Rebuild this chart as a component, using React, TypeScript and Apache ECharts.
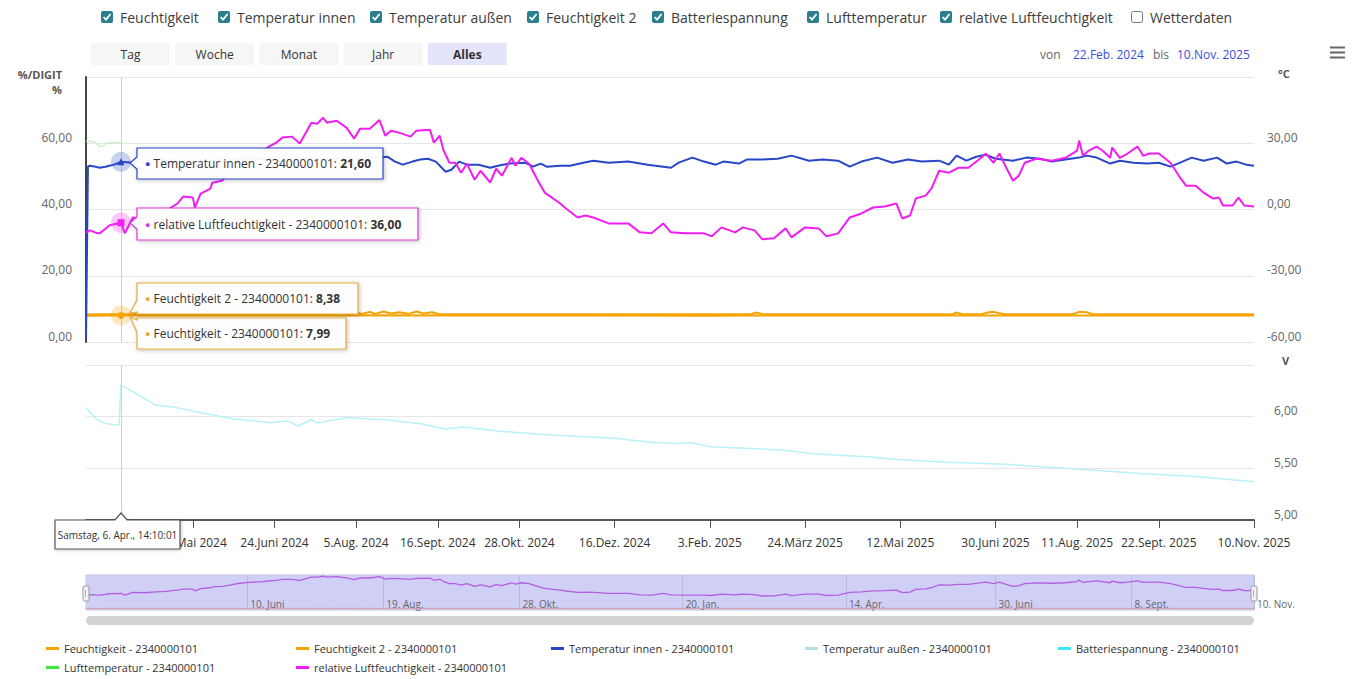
import React, { useEffect, useRef } from 'react';
import * as echarts from 'echarts';

// ---------- axis data ----------
const EARLY_DATES = [
  '2024-02-22', '2024-02-24', '2024-02-27', '2024-02-29', '2024-03-02', '2024-03-05',
  '2024-03-07', '2024-03-10', '2024-03-12', '2024-03-15', '2024-03-17', '2024-03-19',
  '2024-03-22', '2024-03-24', '2024-03-27', '2024-03-29', '2024-04-01', '2024-04-03',
];
const DAILY_START = [2024, 3, 6];
const DAILY_END = [2025, 10, 10];

const X_TICK_DATES = ['2024-05-13', '2024-06-24', '2024-08-05', '2024-09-16', '2024-10-28', '2024-12-16', '2025-02-03', '2025-03-24', '2025-05-12', '2025-06-30', '2025-08-11', '2025-09-22', '2025-11-10'];
const X_TICK_LABELS = ['13.Mai 2024', '24.Juni 2024', '5.Aug. 2024', '16.Sept. 2024', '28.Okt. 2024', '16.Dez. 2024', '3.Feb. 2025', '24.März 2025', '12.Mai 2025', '30.Juni 2025', '11.Aug. 2025', '22.Sept. 2025', '10.Nov. 2025'];
const NAV_TICK_DATES = ['2024-06-10', '2024-08-19', '2024-10-28', '2025-01-20', '2025-04-14', '2025-06-30', '2025-09-08', '2025-11-10'];
const NAV_TICK_LABELS = ['10. Juni', '19. Aug.', '28. Okt.', '20. Jan.', '14. Apr.', '30. Juni', '8. Sept.', '10. Nov.'];

const HOVER_DATE = '2024-04-06';
const HOVER_LABEL = 'Samstag, 6. Apr., 14:10:01';
const RANGE_FROM = '22.Feb. 2024';
const RANGE_TO = '10.Nov. 2025';
const RANGE_BUTTONS = ['Tag', 'Woche', 'Monat', 'Jahr', 'Alles'];
const CHECK_LABELS = ['Feuchtigkeit', 'Temperatur innen', 'Temperatur außen', 'Feuchtigkeit 2', 'Batteriespannung', 'Lufttemperatur', 'relative Luftfeuchtigkeit', 'Wetterdaten'];
const CHECK_STATES = [true, true, true, true, true, true, true, false];

const SUFFIX = ' - 2340000101';
const N_FEUCHT = 'Feuchtigkeit' + SUFFIX;
const N_FEUCHT2 = 'Feuchtigkeit 2' + SUFFIX;
const N_TINNEN = 'Temperatur innen' + SUFFIX;
const N_TAUSSEN = 'Temperatur außen' + SUFFIX;
const N_BATT = 'Batteriespannung' + SUFFIX;
const N_LUFT = 'Lufttemperatur' + SUFFIX;
const N_RH = 'relative Luftfeuchtigkeit' + SUFFIX;

// hovered values (tooltip)
const HOVER_TINNEN = 21.6;
const HOVER_RH = 36.0;
const HOVER_FEUCHT2 = 8.38;
const HOVER_FEUCHT = 7.99;

// ---------- series data ----------
const feuchtigkeit: [string, number][] = [
  ['2024-02-22', 7.9], ['2024-04-06', 7.99], ['2024-06-01', 8.0], ['2024-08-01', 8.05], ['2024-10-01', 7.98],
  ['2024-12-01', 7.99], ['2025-02-01', 7.95], ['2025-04-01', 7.99], ['2025-06-01', 8.0], ['2025-08-01', 8.02],
  ['2025-10-01', 7.99], ['2025-11-10', 7.99],
];

const feuchtigkeit2: [string, number][] = [
  ['2024-02-22', 8.3], ['2024-03-15', 8.4], ['2024-04-06', 8.38], ['2024-05-15', 8.4], ['2024-06-20', 8.35],
  ['2024-07-25', 8.4], ['2024-07-29', 8.9], ['2024-08-01', 8.45], ['2024-08-05', 9.0], ['2024-08-08', 8.45],
  ['2024-08-12', 9.1], ['2024-08-15', 8.5], ['2024-08-19', 9.2], ['2024-08-23', 8.6], ['2024-08-27', 9.0],
  ['2024-09-01', 8.5], ['2024-09-05', 9.2], ['2024-09-09', 8.6], ['2024-09-13', 9.0], ['2024-09-17', 8.4],
  ['2024-10-20', 8.38], ['2024-12-01', 8.4], ['2025-01-15', 8.38], ['2025-02-24', 8.4], ['2025-02-27', 8.9],
  ['2025-03-02', 8.4], ['2025-04-15', 8.38], ['2025-05-20', 8.4], ['2025-06-08', 8.4], ['2025-06-10', 8.9],
  ['2025-06-13', 8.4], ['2025-06-23', 8.4], ['2025-06-26', 8.9], ['2025-06-29', 9.1], ['2025-07-02', 8.7],
  ['2025-07-05', 8.4], ['2025-08-09', 8.4], ['2025-08-12', 9.1], ['2025-08-16', 9.0], ['2025-08-19', 8.4],
  ['2025-09-20', 8.38], ['2025-10-20', 8.4], ['2025-11-10', 8.38],
];

const temperaturInnen: [string, number][] = [
  ['2024-02-22', -59], ['2024-02-24', 19.5], ['2024-02-27', 19.8], ['2024-03-05', 19.4], ['2024-03-10', 18.9],
  ['2024-03-17', 19.4], ['2024-03-22', 19.8], ['2024-03-27', 20.2], ['2024-04-01', 20.8], ['2024-04-03', 21.2],
  ['2024-04-06', 21.6], ['2024-04-12', 21.2], ['2024-04-20', 21.8], ['2024-05-04', 22.3], ['2024-05-18', 21.9],
  ['2024-06-01', 22.6], ['2024-06-15', 23.0], ['2024-06-29', 22.4], ['2024-07-13', 23.2], ['2024-07-27', 22.8],
  ['2024-08-10', 23.4], ['2024-08-17', 23.5], ['2024-08-21', 23.9], ['2024-08-25', 21.7], ['2024-08-29', 20.3],
  ['2024-09-03', 21.7], ['2024-09-07', 22.6], ['2024-09-11', 23.0], ['2024-09-15', 21.7], ['2024-09-20', 17.1],
  ['2024-09-23', 18.0], ['2024-09-27', 21.7], ['2024-10-01', 20.3], ['2024-10-07', 20.3], ['2024-10-13', 18.9],
  ['2024-10-17', 19.8], ['2024-10-23', 20.8], ['2024-10-31', 21.2], ['2024-11-04', 19.4], ['2024-11-08', 20.8],
  ['2024-11-11', 19.4], ['2024-11-18', 19.8], ['2024-11-23', 19.8], ['2024-11-30', 21.2], ['2024-12-05', 22.1],
  ['2024-12-13', 21.2], ['2024-12-23', 21.7], ['2025-01-02', 20.3], ['2025-01-06', 19.8], ['2025-01-14', 18.9],
  ['2025-01-18', 21.2], ['2025-01-25', 23.5], ['2025-01-31', 21.7], ['2025-02-06', 20.3], ['2025-02-10', 21.7],
  ['2025-02-18', 20.8], ['2025-02-22', 22.6], ['2025-03-02', 22.6], ['2025-03-10', 23.0], ['2025-03-17', 24.4],
  ['2025-03-26', 22.1], ['2025-04-02', 22.6], ['2025-04-10', 22.1], ['2025-04-16', 19.4], ['2025-04-22', 21.7],
  ['2025-04-30', 23.5], ['2025-05-08', 21.2], ['2025-05-16', 22.6], ['2025-05-23', 21.7], ['2025-06-01', 22.1],
  ['2025-06-06', 20.3], ['2025-06-10', 24.4], ['2025-06-15', 22.1], ['2025-06-20', 23.9], ['2025-06-25', 24.8],
  ['2025-06-30', 23.0], ['2025-07-09', 22.1], ['2025-07-16', 23.5], ['2025-07-23', 23.0], ['2025-07-29', 21.7],
  ['2025-08-05', 22.6], ['2025-08-12', 23.5], ['2025-08-16', 24.4], ['2025-08-21', 23.5], ['2025-08-28', 20.8],
  ['2025-09-02', 22.1], ['2025-09-09', 21.2], ['2025-09-16', 20.8], ['2025-09-22', 21.2], ['2025-09-28', 19.4],
  ['2025-10-03', 21.2], ['2025-10-09', 23.5], ['2025-10-15', 22.1], ['2025-10-22', 23.5], ['2025-10-27', 20.8],
  ['2025-11-01', 21.7], ['2025-11-06', 20.3], ['2025-11-10', 19.8],
];

const temperaturAussen: [string, number][] = [];

const batteriespannung: [string, number][] = [
  ['2024-02-22', 6.09], ['2024-02-24', 6.065], ['2024-03-02', 6.0], ['2024-03-07', 5.97], ['2024-03-15', 5.94],
  ['2024-03-22', 5.93], ['2024-03-29', 5.92], ['2024-04-03', 5.92], ['2024-04-06', 6.31], ['2024-04-13', 6.23],
  ['2024-04-24', 6.11], ['2024-05-04', 6.09], ['2024-05-14', 6.05], ['2024-06-02', 5.98], ['2024-06-22', 5.94],
  ['2024-07-01', 5.96], ['2024-07-06', 5.91], ['2024-07-13', 5.97], ['2024-07-16', 5.94], ['2024-07-31', 5.99],
  ['2024-08-20', 5.97], ['2024-09-08', 5.93], ['2024-09-20', 5.88], ['2024-09-29', 5.9], ['2024-10-18', 5.86],
  ['2024-11-07', 5.83], ['2024-11-26', 5.81], ['2024-12-16', 5.79], ['2025-01-05', 5.75], ['2025-01-18', 5.74],
  ['2025-01-24', 5.75], ['2025-02-03', 5.71], ['2025-02-27', 5.69], ['2025-03-16', 5.67], ['2025-03-28', 5.64],
  ['2025-04-27', 5.61], ['2025-05-07', 5.59], ['2025-06-05', 5.56], ['2025-07-05', 5.54], ['2025-08-13', 5.49],
  ['2025-09-12', 5.45], ['2025-10-11', 5.42], ['2025-11-10', 5.37],
];

const lufttemperatur: [string, number][] = [
  ['2024-02-22', 31.0], ['2024-02-27', 31.0], ['2024-03-05', 30.4], ['2024-03-10', 28.4], ['2024-03-15', 28.8],
  ['2024-03-19', 30.2], ['2024-03-24', 30.2], ['2024-03-29', 30.4], ['2024-04-03', 30.2], ['2024-04-06', 30.0],
];

const relLuftfeuchte: [string, number][] = [
  ['2024-02-22', 33.0], ['2024-02-27', 33.7], ['2024-03-05', 33.0], ['2024-03-10', 32.8], ['2024-03-17', 34.2],
  ['2024-03-22', 35.2], ['2024-03-27', 35.5], ['2024-04-01', 35.8], ['2024-04-03', 35.2], ['2024-04-06', 36.0],
  ['2024-04-08', 32.8], ['2024-04-12', 37.6], ['2024-04-18', 37.0], ['2024-04-24', 38.6], ['2024-04-29', 39.5],
  ['2024-05-05', 41.8], ['2024-05-08', 43.9], ['2024-05-13', 43.6], ['2024-05-14', 40.6], ['2024-05-17', 44.8],
  ['2024-05-22', 46.3], ['2024-05-23', 48.1], ['2024-05-28', 48.7], ['2024-06-01', 51.1], ['2024-06-06', 54.7],
  ['2024-06-11', 56.2], ['2024-06-18', 57.8], ['2024-06-22', 59.3], ['2024-06-25', 60.2], ['2024-06-28', 61.7],
  ['2024-07-03', 62.0], ['2024-07-07', 59.9], ['2024-07-13', 66.2], ['2024-07-16', 65.9], ['2024-07-19', 67.7],
  ['2024-07-21', 66.2], ['2024-07-26', 66.8], ['2024-07-31', 64.7], ['2024-08-04', 61.4], ['2024-08-07', 64.4],
  ['2024-08-12', 64.4], ['2024-08-17', 67.0], ['2024-08-20', 62.3], ['2024-08-23', 63.8], ['2024-08-27', 63.2],
  ['2024-09-02', 62.0], ['2024-09-05', 63.8], ['2024-09-12', 64.1], ['2024-09-14', 60.2], ['2024-09-17', 62.3],
  ['2024-09-19', 57.8], ['2024-09-22', 54.1], ['2024-09-25', 54.1], ['2024-09-28', 51.1], ['2024-10-01', 53.8],
  ['2024-10-05', 49.0], ['2024-10-08', 51.7], ['2024-10-13', 48.1], ['2024-10-16', 52.3], ['2024-10-19', 50.2],
  ['2024-10-24', 55.6], ['2024-10-26', 53.2], ['2024-10-29', 55.6], ['2024-11-02', 53.8], ['2024-11-06', 49.3],
  ['2024-11-10', 45.1], ['2024-11-13', 43.9], ['2024-11-18', 41.8], ['2024-11-21', 40.3], ['2024-11-27', 37.6],
  ['2024-12-01', 38.2], ['2024-12-05', 37.6], ['2024-12-13', 35.8], ['2024-12-17', 35.8], ['2024-12-23', 35.8],
  ['2024-12-29', 33.1], ['2025-01-04', 32.8], ['2025-01-10', 35.8], ['2025-01-14', 33.1], ['2025-01-21', 32.8],
  ['2025-01-31', 32.8], ['2025-02-04', 31.9], ['2025-02-09', 34.6], ['2025-02-16', 33.1], ['2025-02-20', 34.6],
  ['2025-02-26', 33.7], ['2025-03-02', 31.0], ['2025-03-08', 31.3], ['2025-03-14', 34.3], ['2025-03-17', 31.6],
  ['2025-03-24', 34.6], ['2025-03-31', 34.3], ['2025-04-04', 31.9], ['2025-04-10', 32.8], ['2025-04-16', 37.6],
  ['2025-04-22', 38.8], ['2025-04-28', 40.6], ['2025-05-04', 40.9], ['2025-05-10', 41.8], ['2025-05-13', 37.3],
  ['2025-05-17', 38.2], ['2025-05-20', 43.3], ['2025-05-25', 44.2], ['2025-05-28', 46.3], ['2025-06-01', 51.7],
  ['2025-06-06', 51.1], ['2025-06-11', 52.6], ['2025-06-16', 52.6], ['2025-06-22', 55.3], ['2025-06-25', 56.9],
  ['2025-06-29', 54.1], ['2025-07-02', 56.9], ['2025-07-05', 53.2], ['2025-07-09', 48.7], ['2025-07-12', 50.2],
  ['2025-07-15', 54.1], ['2025-07-21', 55.3], ['2025-07-29', 54.7], ['2025-08-05', 55.6], ['2025-08-11', 57.8],
  ['2025-08-12', 60.8], ['2025-08-14', 56.2], ['2025-08-17', 57.8], ['2025-08-21', 59.0], ['2025-08-24', 57.8],
  ['2025-08-28', 55.6], ['2025-08-29', 58.7], ['2025-09-02', 55.6], ['2025-09-06', 56.9], ['2025-09-11', 59.0],
  ['2025-09-14', 56.2], ['2025-09-17', 56.9], ['2025-09-22', 56.9], ['2025-09-28', 54.1], ['2025-10-03', 49.6],
  ['2025-10-06', 47.2], ['2025-10-11', 47.2], ['2025-10-15', 45.1], ['2025-10-20', 43.3], ['2025-10-23', 43.6],
  ['2025-10-25', 41.2], ['2025-10-30', 41.2], ['2025-11-02', 43.6], ['2025-11-05', 41.2], ['2025-11-10', 40.9],
];

// ---------- helpers ----------
function buildCategories(): string[] {
  const out = [...EARLY_DATES];
  let t = Date.UTC(DAILY_START[0], DAILY_START[1], DAILY_START[2]);
  const end = Date.UTC(DAILY_END[0], DAILY_END[1], DAILY_END[2]);
  while (t <= end) {
    out.push(new Date(t).toISOString().slice(0, 10));
    t += 86400000;
  }
  return out;
}

const FONT = '"Open Sans", "Noto Sans", sans-serif';
const fmt = (v: number) => v.toFixed(2).replace('.', ',');

function buildOption() {
  const cats = buildCategories();
  const idx = new Map<string, number>(cats.map((c, i) => [c, i]));
  const toData = (arr: [string, number][]) =>
    arr.filter(([d]) => idx.has(d)).map(([d, v]) => [idx.get(d) as number, v]);
  const hoverIdx = idx.get(HOVER_DATE) as number;
  const xTickSet = new Set(X_TICK_DATES);
  const navTickSet = new Set(NAV_TICK_DATES);

  const C_ORANGE = '#f5a300';
  const C_BLUE = '#2846c8';
  const C_MAGENTA = '#f01ef0';

  const lineBase = { type: 'line', symbol: 'none', showSymbol: false, silent: true };

  const crossLine = {
    symbol: ['none', 'none'],
    silent: true,
    label: { show: false },
    lineStyle: { color: '#cfcfcf', width: 1, type: 'solid' },
    data: [{ xAxis: hoverIdx }],
  };

  const halo = (value: number, color: string, symbol: string, solid: string) => ({
    silent: true,
    label: { show: false },
    data: [
      { coord: [hoverIdx, value], symbol: 'circle', symbolSize: 20, itemStyle: { color } },
      { coord: [hoverIdx, value], symbol, symbolSize: 7, itemStyle: { color: solid } },
    ],
  });

  // ---------- graphic decorations ----------
  const g: any[] = [];
  const txt = (x: number, y: number, text: string, opts: any = {}) => ({
    type: 'text', x, y, z: 100, silent: true,
    style: {
      text, fill: opts.fill || '#333', fontSize: opts.fontSize || 12, fontFamily: FONT,
      fontWeight: opts.fontWeight || 'normal',
      align: opts.align || 'left', verticalAlign: 'middle',
      textAlign: opts.align || 'left', textVerticalAlign: 'middle',
    },
  });

  // checkboxes
  const cbX = [101, 218, 370, 527, 652, 807, 940, 1131];
  CHECK_LABELS.forEach((label, i) => {
    const x = cbX[i];
    if (CHECK_STATES[i]) {
      g.push({ type: 'rect', z: 100, silent: true, shape: { x, y: 11, width: 12, height: 12, r: 2 }, style: { fill: '#2b7e8e' } });
      g.push({ type: 'polyline', z: 101, silent: true, shape: { points: [[x + 2.6, 17], [x + 5, 19.6], [x + 9.6, 14]] }, style: { stroke: '#ffffff', lineWidth: 1.8, fill: 'none' } });
    } else {
      g.push({ type: 'rect', z: 100, silent: true, shape: { x: x + 0.5, y: 11.5, width: 11, height: 11, r: 2 }, style: { fill: '#ffffff', stroke: '#777', lineWidth: 1 } });
    }
    g.push(txt(x + 19, 17, label, { fontSize: 14, fill: '#3d3d3d' }));
  });

  // range buttons
  RANGE_BUTTONS.forEach((label, i) => {
    const x = 91 + i * 84.2;
    const sel = label === 'Alles';
    g.push({ type: 'rect', z: 100, silent: true, shape: { x, y: 43, width: 79, height: 22, r: 1 }, style: { fill: sel ? '#e4e4fb' : '#f6f6f6' } });
    g.push(txt(x + 39.5, 54.5, label, { align: 'center', fontWeight: sel ? 'bold' : 'normal', fill: '#333' }));
  });

  // range info
  g.push(txt(1040, 54, 'von', { fill: '#666' }));
  g.push(txt(1073, 54, RANGE_FROM, { fill: '#3a50d8' }));
  g.push(txt(1153, 54, 'bis', { fill: '#666' }));
  g.push(txt(1177, 54, RANGE_TO, { fill: '#3a50d8' }));

  // hamburger
  [47.5, 52.5, 57.5].forEach((y) => {
    g.push({ type: 'rect', z: 100, silent: true, shape: { x: 1330, y: y - 1, width: 15, height: 2 }, style: { fill: '#666' } });
  });

  // axis titles
  g.push(txt(62, 74, '%/DIGIT', { align: 'right', fontSize: 11, fontWeight: 'bold', fill: '#555' }));
  g.push(txt(62, 89, '%', { align: 'right', fontSize: 11, fontWeight: 'bold', fill: '#555' }));
  g.push(txt(1278, 73, '°C', { fontSize: 11, fontWeight: 'bold', fill: '#555' }));
  g.push(txt(1282, 360, 'V', { fontSize: 11, fontWeight: 'bold', fill: '#555' }));

  // tooltips
  const tip = (x0: number, y0: number, w: number, h: number, tx: number, ty: number, color: string, label: string, value: string) => {
    const x1 = x0 + w, y1 = y0 + h;
    const cy = Math.min(Math.max(ty, y0 + 8), y1 - 8);
    g.push({
      type: 'polygon', z: 90, silent: true,
      shape: { points: [[x0, y0], [x1, y0], [x1, y1], [x0, y1], [x0, cy + 6], [tx, ty], [x0, cy - 6]] },
      style: { fill: 'rgba(255,255,255,0.96)', stroke: color, lineWidth: 1.2, shadowBlur: 4, shadowColor: 'rgba(0,0,0,0.25)', shadowOffsetX: 1, shadowOffsetY: 1 },
    });
    g.push({
      type: 'text', z: 91, silent: true, x: x0 + 8, y: y0 + h / 2,
      style: {
        text: `{d|●} ${label}: {b|${value}}`,
        fill: '#333', fontSize: 12, fontFamily: FONT, verticalAlign: 'middle', textVerticalAlign: 'middle',
        rich: {
          d: { fill: color, fontSize: 9, fontFamily: FONT },
          b: { fontWeight: 'bold', fill: '#333', fontSize: 12, fontFamily: FONT },
        },
      },
    });
  };
  tip(137, 148, 246, 31, 130, 163, '#2846c8', N_TINNEN, fmt(HOVER_TINNEN));
  tip(137, 208, 281, 32, 130, 223, '#d63ad6', N_RH, fmt(HOVER_RH));
  tip(137, 283, 221, 31, 130, 313, '#e8a93a', N_FEUCHT2, fmt(HOVER_FEUCHT2));
  tip(137, 318, 209, 31, 130, 317, '#e8a93a', N_FEUCHT, fmt(HOVER_FEUCHT));

  // date label
  g.push({
    type: 'polygon', z: 90, silent: true,
    shape: { points: [[55, 520], [115, 520], [121, 513], [127, 520], [180, 520], [180, 549], [55, 549]] },
    style: { fill: '#ffffff', stroke: '#555', lineWidth: 1.2, shadowBlur: 3, shadowColor: 'rgba(0,0,0,0.2)', shadowOffsetX: 1, shadowOffsetY: 1 },
  });
  g.push(txt(117.5, 535, HOVER_LABEL, { align: 'center', fontSize: 10, fill: '#333' }));

  // navigator handles and scrollbar
  [83, 1251].forEach((x) => {
    g.push({ type: 'rect', z: 100, silent: true, shape: { x, y: 586, width: 6, height: 15, r: 1.5 }, style: { fill: '#f2f2f2', stroke: '#999', lineWidth: 1 } });
    g.push({ type: 'line', z: 101, silent: true, shape: { x1: x + 2.5, y1: 590, x2: x + 2.5, y2: 597 }, style: { stroke: '#999', lineWidth: 0.8 } });
  });
  g.push({ type: 'rect', z: 100, silent: true, shape: { x: 86, y: 616, width: 1168, height: 9, r: 4.5 }, style: { fill: '#d2d2d2' } });

  // legends
  const LEG: [string, number, number][] = [
    [N_FEUCHT, 46, 643], [N_FEUCHT2, 296, 643], [N_TINNEN, 551, 643], [N_TAUSSEN, 805, 643], [N_BATT, 1058, 643],
    [N_LUFT, 46, 662], [N_RH, 296, 662],
  ];
  const legends = LEG.map(([name, left, top]) => ({
    data: [name], left, top, padding: 0, itemWidth: 13, itemHeight: 3, icon: 'rect', itemGap: 5,
    selectedMode: false, textStyle: { fontSize: 11, color: '#333', fontFamily: FONT },
  }));

  const yLabel = (max: number, margin: number) => ({
    formatter: (v: number) => (v === max ? '' : fmt(v)),
    color: '#666', fontSize: 12, fontFamily: FONT, margin,
    verticalAlign: 'bottom', lineHeight: 12,
  });

  return {
    animation: false,
    textStyle: { fontFamily: FONT },
    grid: [
      { left: 86, width: 1168, top: 77, height: 265 },
      { left: 86, width: 1168, top: 365, height: 155 },
      { left: 86, width: 1168, top: 575, height: 35, show: true, backgroundColor: '#d0d0f6', borderColor: '#c4c4e4', borderWidth: 1 },
    ],
    xAxis: [
      { type: 'category', gridIndex: 0, data: cats, boundaryGap: false, axisLine: { show: false }, axisTick: { show: false }, axisLabel: { show: false }, splitLine: { show: false } },
      {
        type: 'category', gridIndex: 1, data: cats, boundaryGap: false,
        axisLine: { show: true, lineStyle: { color: '#555', width: 2 } },
        axisTick: { show: true, length: 8, interval: (i: number, v: string) => xTickSet.has(v), lineStyle: { color: '#555', width: 1 } },
        axisLabel: {
          interval: (i: number, v: string) => xTickSet.has(v),
          formatter: (v: string) => X_TICK_LABELS[X_TICK_DATES.indexOf(v)] || '',
          color: '#333', fontSize: 12, fontFamily: FONT, margin: 16, hideOverlap: false,
        },
        splitLine: { show: false },
      },
      {
        type: 'category', gridIndex: 2, data: cats, boundaryGap: false,
        axisLine: { show: false }, axisTick: { show: false },
        axisLabel: {
          inside: true, interval: (i: number, v: string) => navTickSet.has(v),
          formatter: (v: string) => NAV_TICK_LABELS[NAV_TICK_DATES.indexOf(v)] || '',
          align: 'left', padding: [0, 0, 0, 3], margin: 1, color: '#666', fontSize: 10, fontFamily: FONT, hideOverlap: false,
        },
        splitLine: { show: true, interval: (i: number, v: string) => navTickSet.has(v), lineStyle: { color: '#b9b9e2', width: 1 } },
      },
    ],
    yAxis: [
      {
        type: 'value', gridIndex: 0, position: 'left', min: 0, max: 80, interval: 20,
        axisLine: { show: true, lineStyle: { color: '#444', width: 2 } }, axisTick: { show: false },
        axisLabel: yLabel(80, 14), splitLine: { lineStyle: { color: '#e6e6e6' } },
      },
      {
        type: 'value', gridIndex: 0, position: 'right', min: -60, max: 60, interval: 30,
        axisLine: { show: false }, axisTick: { show: false },
        axisLabel: yLabel(60, 13), splitLine: { show: false },
      },
      {
        type: 'value', gridIndex: 1, position: 'right', min: 5, max: 6.5, interval: 0.5,
        axisLine: { show: false }, axisTick: { show: false },
        axisLabel: yLabel(6.5, 20), splitLine: { lineStyle: { color: '#e6e6e6' } },
      },
      { type: 'value', gridIndex: 2, min: 5, max: 70, show: false, splitLine: { show: false } },
    ],
    legend: legends,
    series: [
      { ...lineBase, name: N_FEUCHT, xAxisIndex: 0, yAxisIndex: 0, color: C_ORANGE, lineStyle: { color: C_ORANGE, width: 2 }, data: toData(feuchtigkeit), z: 3,
        markPoint: halo(HOVER_FEUCHT, 'rgba(245,163,0,0.25)', 'circle', C_ORANGE) },
      { ...lineBase, name: N_FEUCHT2, xAxisIndex: 0, yAxisIndex: 0, color: C_ORANGE, lineStyle: { color: C_ORANGE, width: 2 }, data: toData(feuchtigkeit2), z: 3 },
      { ...lineBase, name: N_TINNEN, xAxisIndex: 0, yAxisIndex: 1, color: C_BLUE, lineStyle: { color: C_BLUE, width: 2 }, data: toData(temperaturInnen), z: 4,
        markPoint: halo(HOVER_TINNEN, 'rgba(40,70,200,0.25)', 'triangle', C_BLUE) },
      { ...lineBase, name: N_TAUSSEN, xAxisIndex: 0, yAxisIndex: 1, color: '#b6dde2', lineStyle: { color: '#b6dde2', width: 1.5 }, data: toData(temperaturAussen) },
      { ...lineBase, name: N_BATT, xAxisIndex: 1, yAxisIndex: 2, color: '#3ee6f2', lineStyle: { color: '#b9f2f6', width: 1.5 }, data: toData(batteriespannung),
        markLine: crossLine },
      { ...lineBase, name: N_LUFT, xAxisIndex: 0, yAxisIndex: 1, color: '#3ee63e', lineStyle: { color: '#c2efc2', width: 1.2 }, data: toData(lufttemperatur) },
      { ...lineBase, name: N_RH, xAxisIndex: 0, yAxisIndex: 0, color: C_MAGENTA, lineStyle: { color: C_MAGENTA, width: 2 }, data: toData(relLuftfeuchte), z: 5,
        markLine: crossLine,
        markPoint: halo(HOVER_RH, 'rgba(240,30,240,0.25)', 'rect', C_MAGENTA) },
      { ...lineBase, name: 'nav-feuchtigkeit', xAxisIndex: 2, yAxisIndex: 3, color: '#d99aa6', lineStyle: { color: '#d99aa6', width: 1 }, data: toData(feuchtigkeit) },
      { ...lineBase, name: 'nav-rh', xAxisIndex: 2, yAxisIndex: 3, color: '#b45fe2', lineStyle: { color: '#b45fe2', width: 1.3 }, data: toData(relLuftfeuchte) },
    ],
    graphic: { elements: g },
  };
}

export default function App() {
  const ref = useRef<HTMLDivElement>(null);
  useEffect(() => {
    document.body.style.margin = '0';
    const chart = echarts.init(ref.current as HTMLDivElement, null, { renderer: 'svg' });
    chart.setOption(buildOption() as any);
    return () => chart.dispose();
  }, []);
  return <div ref={ref} style={{ width: 1357, height: 679 }} />;
}
